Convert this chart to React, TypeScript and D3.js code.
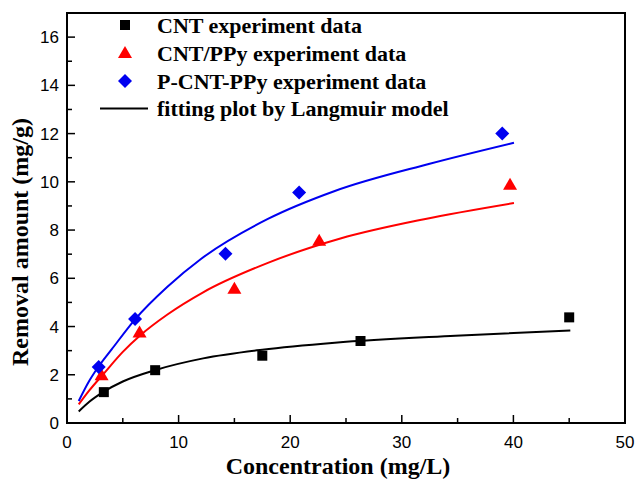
import React from "react";
import * as d3 from "d3";

const cntX = [3.3, 7.9, 17.5, 26.3, 45.0];
const cntY = [1.28, 2.19, 2.79, 3.4, 4.38];
const ppyX = [3.1, 6.5, 15.0, 22.6, 39.7];
const ppyY = [1.98, 3.75, 5.57, 7.56, 9.88];
const pcntX = [2.84, 6.1, 14.2, 20.8, 39.0];
const pcntY = [2.32, 4.31, 7.02, 9.56, 12.0];

// fitted curves
const fitCntX = [1.05, 2, 3.3, 5, 7.95, 12.2, 17.5, 24, 34.8, 45.1];
const fitCntY = [0.48, 0.88, 1.3, 1.72, 2.2, 2.68, 3.04, 3.33, 3.62, 3.84];
const fitPpyX = [1.05, 2, 3.3, 5, 6.6, 9, 12.2, 18, 24.5, 32, 40.05];
const fitPpyY = [0.77, 1.35, 2.05, 2.95, 3.65, 4.5, 5.42, 6.64, 7.65, 8.45, 9.12];
const fitPcntX = [1.05, 2, 2.8, 4, 6.1, 9, 12, 18, 24, 32.5, 40.05];
const fitPcntY = [0.91, 1.75, 2.32, 3.05, 4.3, 5.65, 6.8, 8.46, 9.62, 10.75, 11.62];

const xTicks = [0, 10, 20, 30, 40, 50];
const xMinor = [5, 15, 25, 35, 45];
const yTicks = [0, 2, 4, 6, 8, 10, 12, 14, 16];
const yMinor = [1, 3, 5, 7, 9, 11, 13, 15];

const legendLabels = [
  "CNT experiment data",
  "CNT/PPy experiment data",
  "P-CNT-PPy experiment data",
  "fitting plot by Langmuir model",
];

const BLUE = "#0000f0";
const RED = "#ff0000";

export default function App() {
  const W = 638, H = 479;
  const L = 67, R = 625, T = 13, B = 423;
  const x = d3.scaleLinear().domain([0, 50]).range([L, R]);
  const y = d3.scaleLinear().domain([0, 17]).range([B, T]);
  const line = (xs: number[], ys: number[]) =>
    d3.line<number>().x((d, i) => x(xs[i])).y((d) => y(d)).curve(d3.curveMonotoneX)(ys) || "";

  const sq = (cx: number, cy: number, k: string | number) => (
    <rect key={k} x={cx - 5} y={cy - 5} width={10} height={10} fill="#000" />
  );
  const tri = (cx: number, cy: number, k: string | number) => (
    <path key={k} d={`M${cx},${cy - 7}L${cx + 7},${cy + 5}L${cx - 7},${cy + 5}Z`} fill={RED} />
  );
  const dia = (cx: number, cy: number, k: string | number) => (
    <path key={k} d={`M${cx},${cy - 7}L${cx + 7},${cy}L${cx},${cy + 7}L${cx - 7},${cy}Z`} fill={BLUE} />
  );

  const serif = "'Liberation Serif', 'Times New Roman', serif";
  const sans = "'Liberation Sans', Arial, sans-serif";
  const legY = [25, 53, 81, 108.5];

  return (
    <svg width={W} height={H} style={{ position: "absolute", left: 0, top: 0, background: "#fff" }}>
      <rect x={0} y={0} width={W} height={H} fill="#fff" />
      {/* curves */}
      <path d={line(fitCntX, fitCntY)} fill="none" stroke="#000" strokeWidth={2} />
      <path d={line(fitPpyX, fitPpyY)} fill="none" stroke={RED} strokeWidth={2} />
      <path d={line(fitPcntX, fitPcntY)} fill="none" stroke={BLUE} strokeWidth={2} />
      {/* markers */}
      {cntX.map((v, i) => sq(x(v), y(cntY[i]), "s" + i))}
      {ppyX.map((v, i) => tri(x(v), y(ppyY[i]), "t" + i))}
      {pcntX.map((v, i) => dia(x(v), y(pcntY[i]), "d" + i))}
      {/* frame */}
      <rect x={L} y={T} width={R - L} height={B - T} fill="none" stroke="#000" strokeWidth={2} />
      {/* ticks */}
      {xTicks.map((t) => (
        <g key={"xt" + t}>
          <line x1={x(t)} x2={x(t)} y1={B} y2={B - 8} stroke="#000" strokeWidth={1.5} />
          <text x={x(t)} y={448} textAnchor="middle" fontFamily={sans} fontSize={17}>{t}</text>
        </g>
      ))}
      {xMinor.map((t) => (
        <line key={"xm" + t} x1={x(t)} x2={x(t)} y1={B} y2={B - 5} stroke="#000" strokeWidth={1.5} />
      ))}
      {yTicks.map((t) => (
        <g key={"yt" + t}>
          <line x1={L} x2={L + 8} y1={y(t)} y2={y(t)} stroke="#000" strokeWidth={1.5} />
          <text x={59} y={y(t) + 6} textAnchor="end" fontFamily={sans} fontSize={17}>{t}</text>
        </g>
      ))}
      {yMinor.map((t) => (
        <line key={"ym" + t} x1={L} x2={L + 5} y1={y(t)} y2={y(t)} stroke="#000" strokeWidth={1.5} />
      ))}
      {/* axis titles */}
      <text x={338} y={474} textAnchor="middle" fontFamily={serif} fontWeight="bold" fontSize={24}>
        Concentration (mg/L)
      </text>
      <text
        transform={`translate(28,242) rotate(-90)`}
        textAnchor="middle"
        fontFamily={serif}
        fontWeight="bold"
        fontSize={24}
      >
        Removal amount (mg/g)
      </text>
      {/* legend */}
      {sq(125, legY[0], "l0")}
      {tri(125, legY[1], "l1")}
      {dia(125, legY[2], "l2")}
      <line x1={100} x2={148} y1={legY[3]} y2={legY[3]} stroke="#000" strokeWidth={2} />
      {legendLabels.map((s, i) => (
        <text key={s} x={157} y={legY[i] + 7.5} fontFamily={serif} fontWeight="bold" fontSize={22}>
          {s}
        </text>
      ))}
    </svg>
  );
}
